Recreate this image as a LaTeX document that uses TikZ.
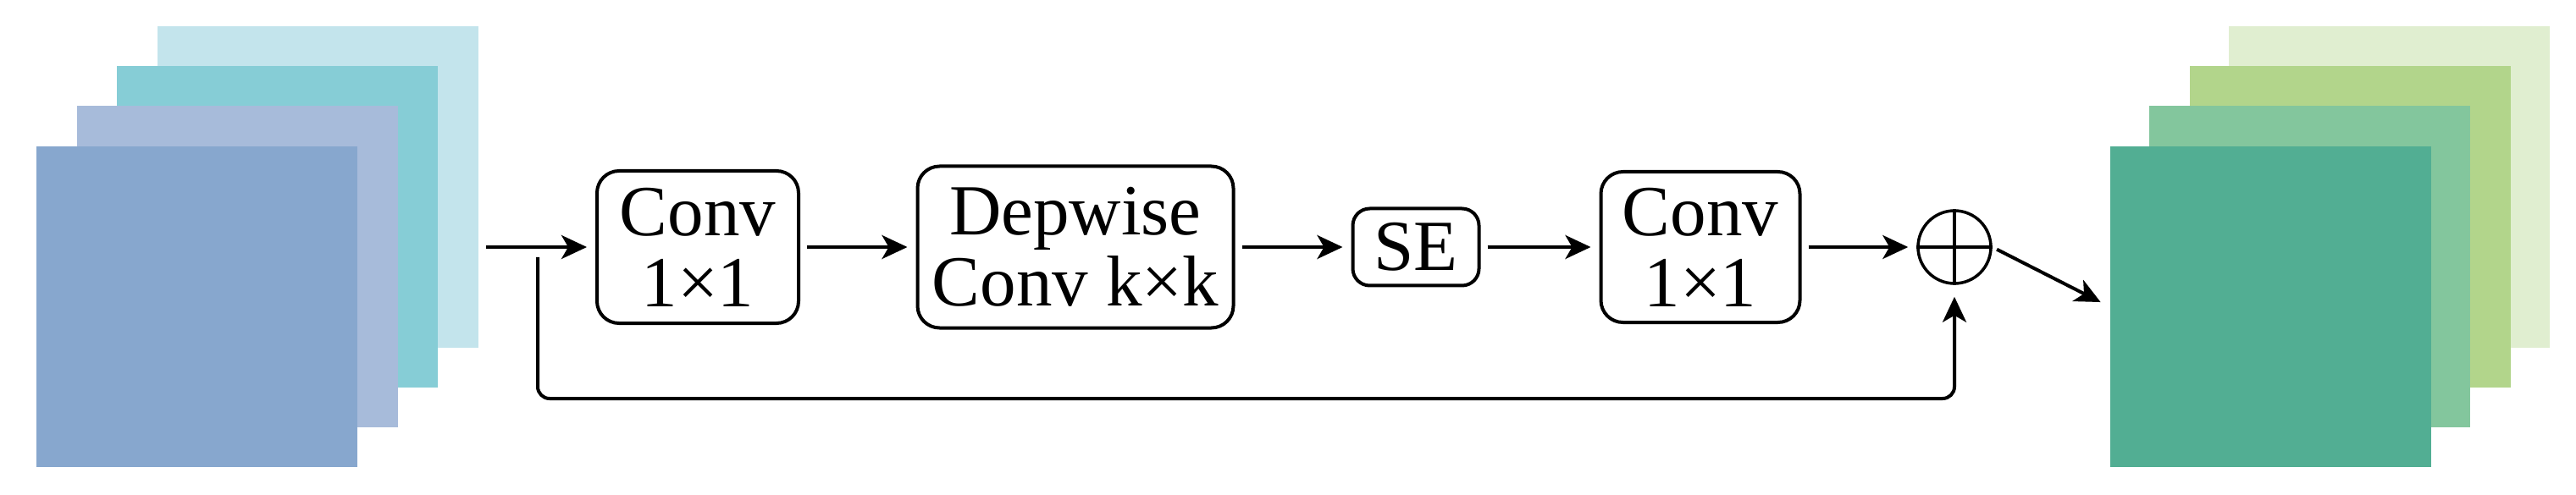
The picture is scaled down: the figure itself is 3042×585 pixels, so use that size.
\documentclass[tikz,border=0pt]{standalone}
\usepackage{fontspec}
\setmainfont{Liberation Serif}
\usetikzlibrary{arrows.meta}
\definecolor{inA}{HTML}{C3E4EC}
\definecolor{inB}{HTML}{86CDD6}
\definecolor{inC}{HTML}{A7BBDA}
\definecolor{inD}{HTML}{87A7CE}
\definecolor{outA}{HTML}{E0EED0}
\definecolor{outB}{HTML}{B2D58B}
\definecolor{outC}{HTML}{83C69D}
\definecolor{outD}{HTML}{52AE93}
\tikzset{
  sheet/.style={draw=none,inner sep=0pt,minimum width=379pt,minimum height=379pt},
  blk/.style={draw,line width=4pt,rounded corners=26pt,align=center,inner sep=0pt,
     font=\fontsize{85}{84}\selectfont},
  conn/.style={line width=4pt,-{Stealth[length=30pt,width=28pt,inset=8pt]}},
}
\begin{document}
\begin{tikzpicture}[x=1pt,y=-1pt]
\useasboundingbox (0,0) rectangle (3042,585);
% input stack
\node[sheet,fill=inA] (i1) at (375,221) {};
\node[sheet,fill=inB] (i2) at (327.5,268) {};
\node[sheet,fill=inC] (i3) at (280,315) {};
\node[sheet,fill=inD] (i4) at (232.5,362.5) {};
% output stack
\node[sheet,fill=outA] (o1) at (2821.5,221) {};
\node[sheet,fill=outB] (o2) at (2775,268) {};
\node[sheet,fill=outC] (o3) at (2727,315) {};
\node[sheet,fill=outD] (o4) at (2681,362.5) {};
% blocks
\node[blk,minimum width=238pt,minimum height=180pt] (c1) at (824,292) {Conv\\1×1};
\node[blk,minimum width=373pt,minimum height=191pt] (dw) at (1270,292) {Depwise\\Conv k×k};
\node[blk,minimum width=149pt,minimum height=91pt,rounded corners=20pt] (se) at (1672,292) {SE};
\node[blk,minimum width=235pt,minimum height=178pt] (c2) at (2008,292) {Conv\\1×1};
\node[draw,circle,line width=3.5pt,minimum size=86pt,inner sep=0pt] (add) at (2308,292) {};
\draw[line width=3.5pt] (add.west) -- (add.east) (add.north) -- (add.south);
\coordinate (in) at (574,292);
\coordinate (sk) at (635,304);
% connectors
\draw[conn,shorten >=10pt] (in) -- (c1.west);
\draw[conn,shorten >=10pt,shorten <=8pt] (c1.east) -- (dw.west);
\draw[conn,shorten >=10pt,shorten <=8pt] (dw.east) -- (se.west);
\draw[conn,shorten >=10pt,shorten <=8pt] (se.east) -- (c2.west);
\draw[conn,shorten >=10pt,shorten <=8pt] (c2.east) -- (add.west);
\draw[conn,shorten >=12pt,shorten <=6pt] (add.east) -- (o4.west);
\draw[conn,rounded corners=14pt,shorten >=14pt] (sk) |- (2308,471) -- (add.south);
\end{tikzpicture}
\end{document}
